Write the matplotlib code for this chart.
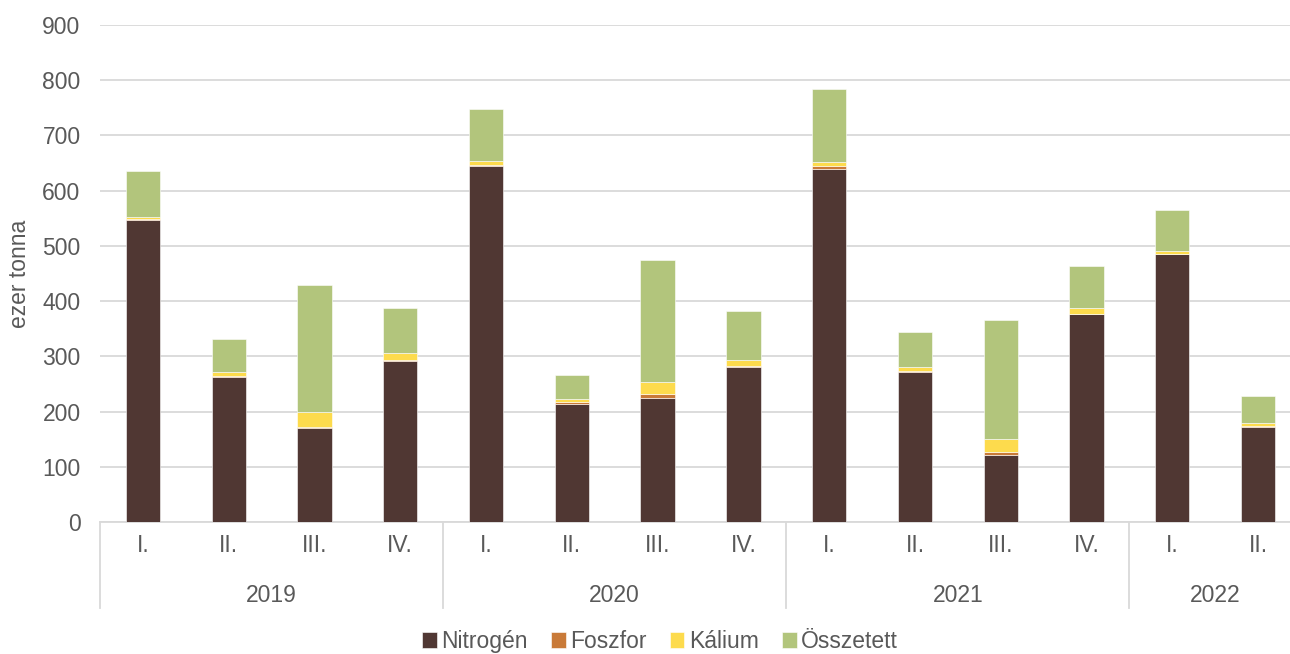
import numpy as np
import matplotlib
matplotlib.use("Agg")
import matplotlib.pyplot as plt
from matplotlib.transforms import blended_transform_factory

plt.rcParams['font.family'] = ['Liberation Sans', 'DejaVu Sans']

years = ['2019', '2020', '2021', '2022']
quarters = ['I.', 'II.', 'III.', 'IV.', 'I.', 'II.', 'III.', 'IV.',
            'I.', 'II.', 'III.', 'IV.', 'I.', 'II.']
year_sizes = [4, 4, 4, 2]

nitrogen = [547, 263, 171, 292, 645, 213, 225, 280, 639, 271, 122, 376, 485, 172]
foszfor = [1, 1, 1, 1, 2, 4, 7, 2, 5, 2, 5, 1, 1, 2]
kalium = [5, 7, 28, 13, 6, 6, 22, 11, 8, 8, 24, 10, 4, 5]
osszetett = [82, 61, 229, 82, 94, 44, 220, 89, 132, 63, 215, 77, 75, 50]

series = [('Nitrogén', nitrogen, '#503733'),
          ('Foszfor', foszfor, '#C97A38'),
          ('Kálium', kalium, '#FDDB4D'),
          ('Összetett', osszetett, '#B2C57C')]

txt = '#595959'
grid = '#D9D9D9'
fs = 16.5

fig = plt.figure(figsize=(12.9, 6.54), dpi=100)
# plot area runs slightly past the right edge of the picture
ax = fig.add_axes([100 / 1290, 132 / 654, 1201 / 1290, 497 / 654])

x = np.arange(len(quarters))
bottom = np.zeros(len(quarters))
for name, vals, col in series:
    ax.bar(x, vals, width=0.4, bottom=bottom, color=col, label=name,
           edgecolor='white', linewidth=0.4, zorder=3)
    bottom += np.array(vals)

ax.set_xlim(-0.5, len(quarters) - 0.5)
ax.set_ylim(0, 900)
ax.set_yticks(range(0, 901, 100))
ax.yaxis.grid(True, color=grid, linewidth=1.3, zorder=0)
for s in ['top', 'right', 'left']:
    ax.spines[s].set_visible(False)
ax.spines['bottom'].set_color(grid)
ax.spines['bottom'].set_linewidth(1.3)
ax.tick_params(axis='y', length=0, labelsize=fs, colors=txt, pad=14)
ax.set_xticks([])
ax.set_ylabel('ezer tonna', fontsize=fs, color=txt, labelpad=8)

# two-level category axis
tr = blended_transform_factory(ax.transData, ax.transAxes)
for xi, q in zip(x, quarters):
    ax.text(xi, -0.047, q, transform=tr, ha='center', va='center',
            fontsize=fs, color=txt)
start = 0
for yr, n in zip(years, year_sizes):
    ax.plot([start - 0.5, start - 0.5], [0, -0.173], transform=tr,
            color=grid, linewidth=1.3, clip_on=False)
    ax.text(start + n / 2 - 0.5, -0.148, yr, transform=tr, ha='center',
            va='center', fontsize=fs, color=txt)
    start += n

fig.legend(loc='lower center', bbox_to_anchor=(660 / 1290, -0.03), ncol=4,
           frameon=False, fontsize=fs, handlelength=0.65, handleheight=0.65,
           handletextpad=0.2, columnspacing=1.0, labelcolor=txt)

fig.savefig('out.png', dpi=100)
